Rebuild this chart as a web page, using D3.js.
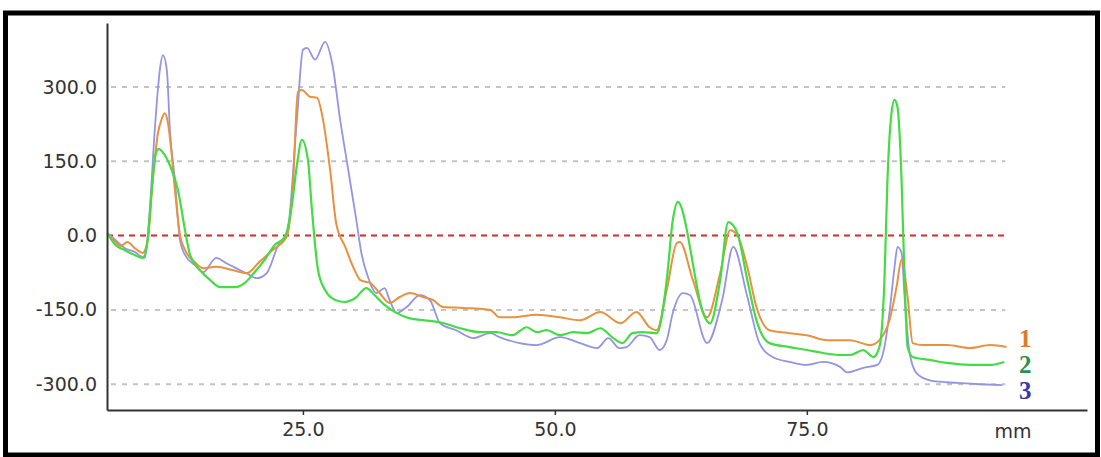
<!DOCTYPE html>
<html>
<head>
<meta charset="utf-8">
<script src="https://cdn.jsdelivr.net/npm/d3@7.9.0/dist/d3.min.js"></script>
<style>
  body { margin: 0; background: #fff; }
  svg { display: block; }
</style>
</head>
<body>
<svg id="chart" width="1101" height="457"></svg>
<script>
// traces: [mm, value]
const trace1 = [
  [5.6, 5], [6.4, -13], [6.9, -21], [7.6, -13], [8.3, -25], [9.1, -35], [9.6, -9], [10.1, 112],
  [10.6, 205], [11.0, 236], [11.3, 247], [11.6, 228], [11.9, 180], [12.3, 92], [12.8, 1], [13.3, -29], [14.3, -54],
  [15.1, -66], [16.4, -63], [18.1, -70], [19.4, -76], [20.7, -53], [22.0, -29], [23.4, -2], [24.0, 98],
  [24.5, 290], [24.9, 294], [25.7, 280], [26.4, 278], [27.0, 233], [27.7, 132], [28.3, 25], [29.2, -23],
  [30.0, -64], [30.7, -90], [31.7, -96], [32.6, -116], [33.6, -136], [34.6, -124], [35.6, -116], [36.9, -124],
  [37.9, -130], [38.9, -144], [40.9, -146], [43.6, -150], [44.5, -165], [45.8, -165], [48.2, -160], [50.5, -165],
  [52.5, -171], [54.5, -154], [56.5, -177], [58.1, -154], [59.4, -185], [60.1, -191], [61.1, -110], [62.1, -15],
  [62.4, -13], [63.7, -90], [65.1, -165], [66.4, -76], [67.4, 11], [68.1, 1], [69.1, -64], [70.0, -144],
  [71.3, -191], [73.3, -197], [75.0, -201], [77.0, -211], [79.3, -211], [81.3, -221], [82.2, -211], [83.2, -171],
  [83.9, -104], [84.4, -49], [85.0, -124], [85.5, -217], [86.5, -221], [88.9, -221], [91.2, -227], [93.2, -221],
  [94.8, -225]
];
const trace2 = [
  [5.6, 5], [6.4, -19], [7.3, -29], [8.3, -39], [9.1, -45], [9.6, -9], [10.0, 92], [10.4, 165],
  [10.7, 175], [11.1, 168], [11.8, 142], [12.6, 92], [13.3, 11], [13.8, -39], [14.8, -70], [15.8, -90], [16.8, -104],
  [18.3, -104], [19.2, -96], [20.2, -74], [21.2, -49], [22.2, -19], [23.2, -3], [23.9, 61], [24.4, 142],
  [24.9, 193], [25.5, 152], [25.9, 51], [26.5, -70], [27.2, -110], [28.2, -130], [29.2, -134], [30.2, -126],
  [31.3, -106], [32.1, -120], [33.1, -140], [34.1, -154], [35.6, -167], [37.1, -171], [38.6, -175], [40.6, -187],
  [42.6, -195], [44.2, -195], [45.8, -201], [47.2, -185], [48.2, -195], [49.2, -191], [50.5, -201], [51.8, -195],
  [53.2, -197], [54.5, -187], [55.8, -207], [56.7, -217], [57.7, -197], [58.7, -195], [60.1, -197], [61.1, -90],
  [61.7, 31], [62.2, 68], [63.1, 11], [63.4, -23], [64.7, -156], [65.4, -177], [66.4, -90], [67.2, 27],
  [68.1, 5], [69.1, -90], [70.0, -171], [71.3, -217], [73.3, -225], [75.0, -231], [76.6, -237], [78.3, -241],
  [79.3, -241], [80.6, -231], [81.6, -245], [82.2, -225], [82.7, -90], [83.0, 112], [83.4, 247], [83.7, 274],
  [84.0, 259], [84.4, 112], [84.7, -90], [85.0, -225], [85.5, -245], [87.2, -251], [88.9, -257], [91.2, -261],
  [93.2, -261], [94.6, -255]
];
const trace3 = [
  [5.6, 5], [6.4, -9], [7.3, -25], [8.3, -33], [9.3, -45], [9.8, 51], [10.3, 213], [10.8, 334],
  [11.1, 364], [11.5, 334], [11.8, 213], [12.3, 112], [12.8, -9], [13.3, -39], [14.3, -60], [15.1, -74],
  [16.4, -45], [17.4, -56], [19.4, -76], [20.4, -86], [21.4, -76], [22.7, -13], [23.4, 1], [24.4, 233],
  [25.0, 375], [25.4, 379], [26.2, 355], [27.2, 391], [27.9, 348], [28.7, 233], [29.5, 132], [30.3, 31],
  [30.8, -35], [31.5, -86], [32.3, -116], [33.1, -106], [33.6, -130], [34.3, -156], [35.3, -144], [36.6, -120],
  [37.6, -130], [38.6, -177], [40.2, -191], [41.9, -207], [43.6, -197], [44.5, -205], [46.5, -217], [48.2, -221],
  [50.5, -205], [52.5, -217], [54.2, -227], [55.3, -207], [56.4, -227], [57.1, -225], [58.4, -201], [59.4, -205],
  [60.4, -231], [61.1, -211], [61.7, -156], [62.7, -116], [63.4, -120], [65.1, -217], [66.6, -130], [67.7, -23],
  [69.1, -124], [70.3, -217], [71.6, -245], [73.3, -255], [75.0, -261], [76.6, -255], [78.3, -265], [79.0, -276],
  [80.6, -267], [82.0, -261], [82.7, -225], [83.2, -156], [83.7, -64], [84.0, -23], [84.4, -35], [84.7, -124],
  [85.2, -237], [85.9, -278], [87.2, -292], [88.9, -296], [90.5, -298], [92.2, -300], [94.4, -302]
];

const seriesNames = ["1", "2", "3"];
const yTicks = [300, 150, 0, -150, -300];
const xTicks = [25, 50, 75];
const xUnit = "mm";

const series = [
  { name: seriesNames[2], data: trace3, color: "#9494e4", width: 1.8 },
  { name: seriesNames[0], data: trace1, color: "#e8913e", width: 2 },
  { name: seriesNames[1], data: trace2, color: "#44dc44", width: 2.2 }
];
const labelColors = { "1": "#e07a26", "2": "#2e8f4e", "3": "#3838a8" };

const svg = d3.select("#chart");

const x = d3.scaleLinear().domain([5.56, 102.8]).range([107, 1087]);
const y = d3.scaleLinear().domain([-352, 429]).range([410, 23]);
const xEnd = 94.7;

// plain hyphen for negatives, like the original software
const fmt = d => d3.format(".1f")(d).replace("\u2212", "-");

// outer frame
svg.append("rect")
  .attr("x", 5.5).attr("y", 13)
  .attr("width", 1092).attr("height", 442)
  .attr("fill", "#fff")
  .attr("stroke", "#000")
  .attr("stroke-width", 5);

// grid lines
svg.append("g")
  .selectAll("line")
  .data(yTicks.filter(d => d !== 0))
  .join("line")
  .attr("x1", x(x.domain()[0]) + 4).attr("x2", x(xEnd))
  .attr("y1", d => y(d)).attr("y2", d => y(d))
  .attr("stroke", "#c4c4c4")
  .attr("stroke-width", 2)
  .attr("stroke-dasharray", "5,6");

// zero line
svg.append("line")
  .attr("x1", x(x.domain()[0])).attr("x2", x(xEnd))
  .attr("y1", y(0)).attr("y2", y(0))
  .attr("stroke", "#d42a2a")
  .attr("stroke-width", 2)
  .attr("stroke-dasharray", "6,5");

// traces
const line = d3.line()
  .x(d => x(d[0]))
  .y(d => y(d[1]))
  .curve(d3.curveMonotoneX);

svg.append("g")
  .selectAll("path")
  .data(series)
  .join("path")
  .attr("d", d => line(d.data))
  .attr("fill", "none")
  .attr("stroke", d => d.color)
  .attr("stroke-width", d => d.width)
  .attr("stroke-linejoin", "round");

// y axis
const yAxis = svg.append("g")
  .attr("transform", `translate(${x(x.domain()[0])},0)`)
  .call(d3.axisLeft(y).tickValues(yTicks).tickSize(0).tickPadding(10).tickFormat(fmt));
yAxis.select(".domain").attr("stroke", "#333").attr("stroke-width", 2);
yAxis.selectAll("text")
  .attr("font-family", "DejaVu Sans, sans-serif")
  .attr("font-size", 19)
  .attr("fill", "#333");

// x axis
const xAxis = svg.append("g")
  .attr("transform", `translate(0,${y(y.domain()[0])})`)
  .call(d3.axisBottom(x).tickValues(xTicks).tickSize(5).tickSizeOuter(0).tickPadding(8).tickFormat(fmt));
xAxis.select(".domain").attr("stroke", "#333").attr("stroke-width", 2);
xAxis.selectAll(".tick line").attr("stroke", "#333").attr("stroke-width", 1.5);
xAxis.selectAll("text")
  .attr("font-family", "DejaVu Sans, sans-serif")
  .attr("font-size", 19)
  .attr("fill", "#333");

svg.append("text")
  .attr("x", 1013).attr("y", 438)
  .attr("text-anchor", "middle")
  .attr("font-family", "DejaVu Sans, sans-serif")
  .attr("font-size", 19)
  .attr("fill", "#333")
  .text(xUnit);

// series labels at the trace ends
const labelY = { "1": 347, "2": 373, "3": 399 };
svg.append("g")
  .selectAll("text")
  .data(seriesNames)
  .join("text")
  .attr("x", 1019)
  .attr("y", d => labelY[d])
  .attr("font-family", "Liberation Serif, serif")
  .attr("font-weight", "bold")
  .attr("font-size", 25)
  .attr("fill", d => labelColors[d])
  .text(d => d);
</script>
</body>
</html>
